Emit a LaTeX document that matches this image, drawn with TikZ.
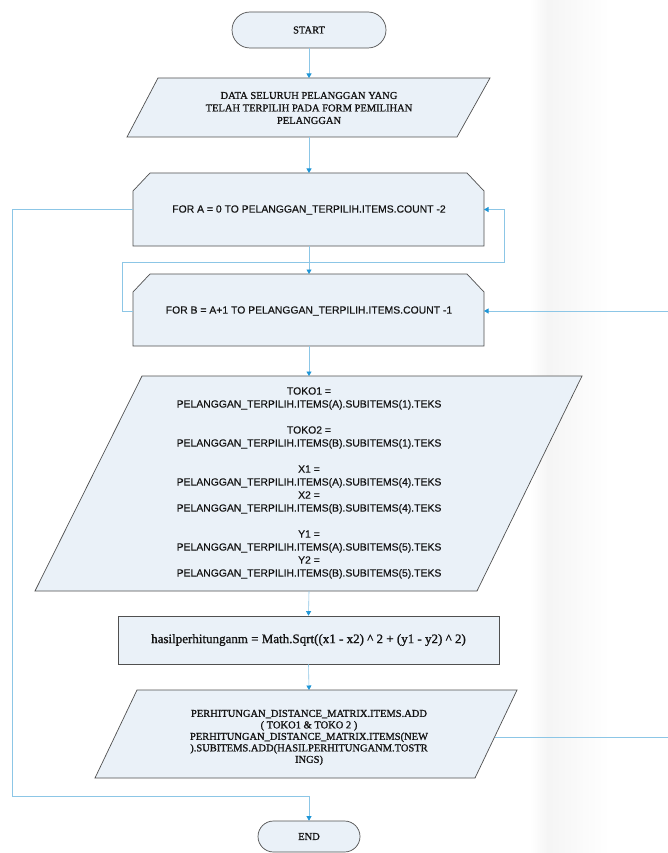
\documentclass[tikz,border=0pt]{standalone}
\usepackage{fontspec}
\setmainfont[FakeBold=1.2]{Liberation Serif}
\newfontfamily\arialf[FakeBold=0.4]{Liberation Sans}
\usetikzlibrary{arrows.meta,shapes.misc}
\definecolor{boxfill}{RGB}{234,241,248}
\definecolor{boxline}{RGB}{80,80,80}
\definecolor{connline}{RGB}{140,198,230}
\definecolor{arrowblue}{RGB}{30,150,215}
\definecolor{txt}{RGB}{20,20,20}
\begin{document}
\begin{tikzpicture}[x=1pt,y=-1pt,
  shapebox/.style={draw=boxline, fill=boxfill, line width=0.7pt},
  terminal/.style={rounded rectangle, shapebox, inner sep=0pt},
  conn/.style={draw=connline, line width=0.6pt},
  flow/.style={conn, -{Triangle[width=5pt,length=4.5pt,color=arrowblue]}},
  serift/.style={font=\fontsize{10.5}{12.5}\selectfont, text=txt, align=center, inner sep=0pt},
  sanst/.style={font=\arialf\fontsize{10.4}{13}\selectfont, text=txt, align=center, inner sep=0pt}
]
\fill[white] (0,0) rectangle (667,853);
\useasboundingbox (0,0) rectangle (667,853);
\shade[left color=white, right color=black!4] (530,0) rectangle (548,853);
\shade[left color=black!4, right color=white] (548,0) rectangle (610,853);

% START
\node[terminal, minimum width=154pt, minimum height=36pt, serift] (start) at (309,30) {START};

% input
\draw[shapebox] (158,78) -- (490,78) -- (457,137) -- (127,137) -- cycle;
\node[serift] (input) at (309,108) {DATA SELURUH PELANGGAN YANG\\TELAH TERPILIH PADA FORM PEMILIHAN\\PELANGGAN};
\coordinate (inT) at (309,78);
\coordinate (inB) at (309,137);

% FOR A
\draw[shapebox] (133,246) -- (133,191) -- (150,173) -- (467,173) -- (484,191) -- (484,246) -- cycle;
\node[sanst] (fora) at (309,210) {FOR A = 0 TO PELANGGAN\_TERPILIH.ITEMS.COUNT -2};
\coordinate (aT) at (309,173);
\coordinate (aB) at (309,246);
\coordinate (aL) at (133,209.5);
\coordinate (aR) at (484,209.5);

% FOR B
\draw[shapebox] (133,346) -- (133,292) -- (150,274) -- (467,274) -- (484,292) -- (484,346) -- cycle;
\node[sanst] (forb) at (309,311) {FOR B = A+1 TO PELANGGAN\_TERPILIH.ITEMS.COUNT -1};
\coordinate (bT) at (309,274);
\coordinate (bB) at (309,346);
\coordinate (bL) at (133,311);
\coordinate (bR) at (484,311);

% calculation block
\draw[shapebox] (142,376) -- (582,376) -- (477,591) -- (35,591) -- cycle;
\node[sanst] (calc) at (309,483) {TOKO1 =\\PELANGGAN\_TERPILIH.ITEMS(A).SUBITEMS(1).TEKS\\[13pt]
TOKO2 =\\PELANGGAN\_TERPILIH.ITEMS(B).SUBITEMS(1).TEKS\\[13pt]
X1 =\\PELANGGAN\_TERPILIH.ITEMS(A).SUBITEMS(4).TEKS\\
X2 =\\PELANGGAN\_TERPILIH.ITEMS(B).SUBITEMS(4).TEKS\\[13pt]
Y1 =\\PELANGGAN\_TERPILIH.ITEMS(A).SUBITEMS(5).TEKS\\
Y2 =\\PELANGGAN\_TERPILIH.ITEMS(B).SUBITEMS(5).TEKS};
\coordinate (cT) at (309,376);
\coordinate (cB) at (309,591);

% hasil
\node[shapebox, minimum width=381pt, minimum height=48pt, inner sep=0pt, text=txt,
  font=\fontsize{13}{15}\selectfont] (hasil) at (308.5,640)
  {hasilperhitunganm = Math.Sqrt((x1 - x2) {\char"5E} 2 + (y1 - y2) {\char"5E} 2)};

% output
\draw[shapebox] (137,690) -- (517,690) -- (475,778) -- (95,778) -- cycle;
\node[serift, font=\fontsize{10.5}{11.5}\selectfont] (out) at (309,737.5) {PERHITUNGAN\_DISTANCE\_MATRIX.ITEMS.ADD\\( TOKO1 \& TOKO 2 )\\PERHITUNGAN\_DISTANCE\_MATRIX.ITEMS(NEW\\).SUBITEMS.ADD(HASILPERHITUNGANM.TOSTR\\INGS)};
\coordinate (oT) at (309,690);
\coordinate (oR) at (494.6,737);

% END
\node[terminal, minimum width=102pt, minimum height=31pt, serift] (end) at (309,836.5) {END};

% connectors
\coordinate (outerC) at (12,796);
\coordinate (innerL) at (122,262);
\coordinate (innerR) at (504,262);
\coordinate (farR) at (668,737);

\draw[flow] (start.south) -- (inT);
\draw[flow] (inB) -- (aT);
\draw[flow] (aB) -- (bT);
\draw[flow] (bB) -- (cT);
\draw[flow] (cB) -- (hasil.north);
\draw[flow] (hasil.south) -- (oT);
\draw[flow] (aL) -| (outerC) -| (end.north);
\draw[flow] (bL) -| (innerL) -- (innerR) |- (aR);
\draw[flow] (oR) -- (farR) |- (bR);
\end{tikzpicture}
\end{document}
